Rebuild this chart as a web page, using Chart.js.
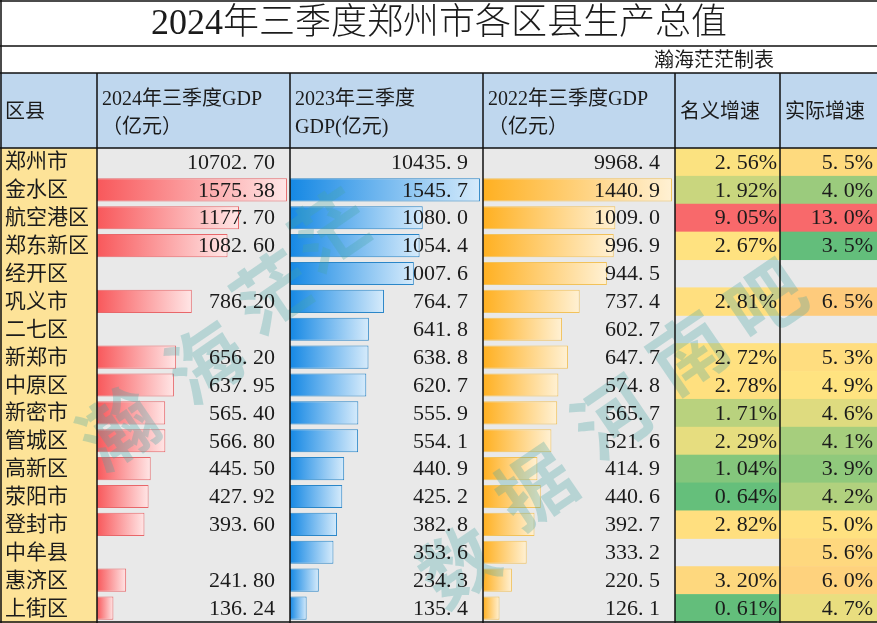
<!DOCTYPE html>
<html>
<head>
<meta charset="utf-8">
<title>2024年三季度郑州市各区县生产总值</title>
<script src="https://cdn.jsdelivr.net/npm/chart.js@4.4.0/dist/chart.umd.min.js"></script>
<style>
    html, body { margin: 0; padding: 0; background: #fff; }
    #wrap { width: 877px; height: 623px; position: relative; }
</style>
</head>
<body>
<div id="wrap"><canvas id="gdpChart"></canvas></div>
<script>
// Data
const districts = ['郑州市', '金水区', '航空港区', '郑东新区', '经开区', '巩义市', '二七区', '新郑市', '中原区',
    '新密市', '管城区', '高新区', '荥阳市', '登封市', '中牟县', '惠济区', '上街区'];
const gdp2024 = [10702.70, 1575.38, 1177.70, 1082.60, null, 786.20, null, 656.20, 637.95,
    565.40, 566.80, 445.50, 427.92, 393.60, null, 241.80, 136.24];
const gdp2023 = [10435.9, 1545.7, 1080.0, 1054.4, 1007.6, 764.7, 641.8, 638.8, 620.7,
    555.9, 554.1, 440.9, 425.2, 382.8, 353.6, 234.3, 135.4];
const gdp2022 = [9968.4, 1440.9, 1009.0, 996.9, 944.5, 737.4, 602.7, 647.7, 574.8,
    565.7, 521.6, 414.9, 440.6, 392.7, 333.2, 220.5, 126.1];
const nominalGrowth = [2.56, 1.92, 9.05, 2.67, null, 2.81, null, 2.72, 2.78,
    1.71, 2.29, 1.04, 0.64, 2.82, null, 3.20, 0.61];
const realGrowth = [5.5, 4.0, 13.0, 3.5, null, 6.5, null, 5.3, 4.9,
    4.6, 4.1, 3.9, 4.2, 5.0, 5.6, 6.0, 4.7];

const title = '2024年三季度郑州市各区县生产总值';
const subtitle = '瀚海茫茫制表';
const headerLines = [
    ['区县'],
    ['2024年三季度GDP', '（亿元）'],
    ['2023年三季度', 'GDP(亿元)'],
    ['2022年三季度GDP', '（亿元）'],
    ['名义增速'],
    ['实际增速']
];

const FONT = "'Liberation Serif', 'Noto Sans CJK SC', serif";
const TEXT = '#1b1b1b';

// 郑州市 is the city total, it gets no data bar
const barsOf = arr => arr.map((v, i) => (i === 0 ? null : v));

function mix(a, b, t) {
    return 'rgb(' + a.map((c, i) => Math.round(c + (b[i] - c) * t)).join(',') + ')';
}

// Excel-like 3-colour scale: green - yellow - red, midpoint at median
function scaleColor(values, v) {
    const vals = values.filter(x => x != null).sort((a, b) => a - b);
    const n = vals.length;
    const min = vals[0], max = vals[n - 1];
    const mid = n % 2 ? vals[(n - 1) / 2] : (vals[n / 2 - 1] + vals[n / 2]) / 2;
    const green = [99, 190, 123], yellow = [255, 227, 128], red = [248, 105, 107];
    if (v <= mid) return mix(green, yellow, (v - min) / (mid - min));
    return mix(yellow, red, (v - mid) / (max - mid));
}

function barGradient(from, to) {
    return ctx => {
        const chart = ctx.chart;
        const ds = chart.data.datasets[ctx.datasetIndex];
        const scale = chart.scales[ds.xAxisID];
        if (ctx.raw == null || !scale) return from;
        const x0 = scale.getPixelForValue(0);
        const x1 = scale.getPixelForValue(ctx.raw);
        const g = chart.ctx.createLinearGradient(x0, 0, x1, 0);
        g.addColorStop(0, from);
        g.addColorStop(1, to);
        return g;
    };
}

const fmt = (v, d, pct) => v == null ? '' : v.toFixed(d).replace('.', '. ') + (pct ? '%' : '');

// Table painting around the bars
const tablePlugin = {
    id: 'tablePlugin',
    beforeDatasetsDraw(chart) {
        const c = chart.ctx;
        const y = chart.scales.y;
        const W = chart.width;
        const rowH = y.height / districts.length;
        const cols = colEdges(chart);
        c.save();
        c.fillStyle = '#fff';
        c.fillRect(0, 0, W, 73);
        c.fillStyle = '#bfd7ee';
        c.fillRect(0, 73, W, y.top - 73);
        c.fillStyle = '#fde398';
        c.fillRect(0, y.top, cols[1], y.height + 2);
        c.fillStyle = '#e9e9e9';
        c.fillRect(cols[1], y.top, W - cols[1], y.height + 2);
        districts.forEach((d, i) => {
            const top = y.getPixelForValue(i) - rowH / 2;
            if (nominalGrowth[i] != null) {
                c.fillStyle = scaleColor(nominalGrowth, nominalGrowth[i]);
                c.fillRect(cols[4], top, cols[5] - cols[4], rowH + 0.5);
            }
            if (realGrowth[i] != null) {
                c.fillStyle = scaleColor(realGrowth, realGrowth[i]);
                c.fillRect(cols[5], top, W - cols[5], rowH + 0.5);
            }
        });
        c.restore();
    },
    afterDatasetsDraw(chart) {
        const c = chart.ctx;
        const y = chart.scales.y;
        const W = chart.width, H = chart.height;
        const cols = colEdges(chart);
        c.save();

        // watermark
        c.fillStyle = 'rgba(70, 165, 165, 0.3)';
        c.font = "bold 76px 'Noto Sans CJK SC'";
        c.textAlign = 'center';
        c.textBaseline = 'middle';
        [['瀚', 118, 428], ['海', 205, 362], ['茫', 272, 292], ['茫', 330, 230],
         ['数', 458, 565], ['据', 535, 487], ['河', 612, 417], ['南', 688, 352], ['吧', 765, 300]]
            .forEach(([ch, x, yy]) => {
                c.save();
                c.translate(x, yy);
                c.rotate(-0.6);
                c.fillText(ch, 0, 0);
                c.restore();
            });

        // grid lines
        c.strokeStyle = '#111';
        c.lineWidth = 1.5;
        c.beginPath();
        [46, 73, y.top].forEach(yy => { c.moveTo(0, yy); c.lineTo(W, yy); });
        cols.slice(1).forEach(x => { c.moveTo(x, 73); c.lineTo(x, H); });
        c.moveTo(1, 0); c.lineTo(1, H);
        c.moveTo(0, 1); c.lineTo(W, 1);
        c.moveTo(0, H - 1); c.lineTo(W, H - 1);
        c.stroke();

        // title and subtitle
        c.fillStyle = TEXT;
        c.textBaseline = 'middle';
        c.textAlign = 'center';
        c.font = '300 36px ' + FONT;
        c.fillText(title, 439, 25);
        c.textAlign = 'right';
        c.font = '20px ' + FONT;
        c.fillText(subtitle, 774, 62);

        // header
        c.textAlign = 'left';
        c.font = '20px ' + FONT;
        headerLines.forEach((lines, k) => {
            const x = cols[k] + 5;
            if (lines.length === 1) {
                c.fillText(lines[0], x, 113);
            } else {
                c.fillText(lines[0], x, 100);
                c.fillText(lines[1], x, 128);
            }
        });

        // body
        const pad = 15;
        districts.forEach((d, i) => {
            const cy = y.getPixelForValue(i) + 1;
            c.textAlign = 'left';
            c.font = '21px ' + FONT;
            c.fillText(d, 5, cy);
            c.textAlign = 'right';
            c.font = '22px ' + FONT;
            c.fillText(fmt(gdp2024[i], 2), cols[2] - pad, cy);
            c.fillText(fmt(gdp2023[i], 1), cols[3] - pad, cy);
            c.fillText(fmt(gdp2022[i], 1), cols[4] - pad, cy);
            c.fillText(fmt(nominalGrowth[i], 2, true), cols[5] - 3, cy);
            c.fillText(fmt(realGrowth[i], 1, true), W - 4, cy);
        });
        c.restore();
    }
};

function colEdges(chart) {
    const s = chart.scales;
    return [0, s.x24.left, s.x23.left, s.x22.left, s.x22.right, 780];
}

const axisMax = arr => Math.max(...barsOf(arr).filter(v => v != null)) * 1.016;

function xAxis(arr, weight) {
    return {
        type: 'linear', position: 'bottom', stack: 'gdp', stackWeight: weight,
        min: 0, max: axisMax(arr), display: false
    };
}

function dataset(arr, axisId, from, to, line) {
    return {
        data: barsOf(arr),
        xAxisID: axisId,
        yAxisID: 'y',
        backgroundColor: barGradient(from, to),
        borderColor: line,
        borderWidth: 1,
        borderSkipped: false,
        barPercentage: 0.83,
        categoryPercentage: 1,
        grouped: false
    };
}

window.onload = () => {
    const ctx = document.getElementById('gdpChart').getContext('2d');
    new Chart(ctx, {
        type: 'bar',
        data: {
            labels: districts,
            datasets: [
                dataset(gdp2024, 'x24', '#f8585b', '#ffe6e6', '#e8676a'),
                dataset(gdp2023, 'x23', '#1588e4', '#d6ebfb', '#2a86c8'),
                dataset(gdp2022, 'x22', '#ffb021', '#fff1d4', '#f2c25a')
            ]
        },
        options: {
            indexAxis: 'y',
            responsive: true,
            maintainAspectRatio: false,
            devicePixelRatio: 1,
            animation: false,
            layout: { padding: { left: 97, right: 202, top: 148, bottom: 1 } },
            plugins: { legend: { display: false }, tooltip: { enabled: false } },
            scales: {
                y: { type: 'category', labels: districts, display: false, offset: true },
                x24: xAxis(gdp2024, 193),
                x23: xAxis(gdp2023, 193),
                x22: xAxis(gdp2022, 192)
            }
        },
        plugins: [tablePlugin]
    });
};
</script>
</body>
</html>
